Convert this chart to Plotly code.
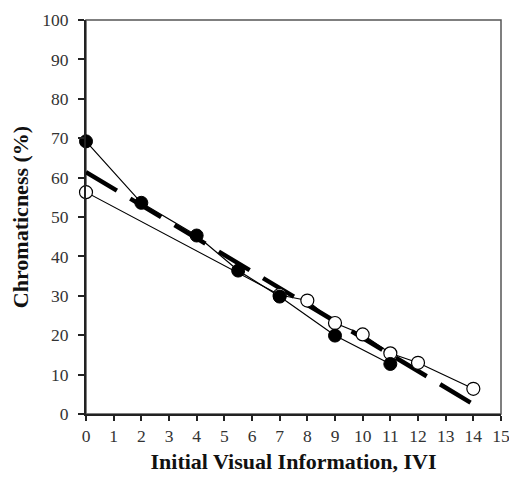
import plotly.graph_objects as go

# Data
filled_x = [0, 2, 4, 5.5, 7, 9, 11]
filled_y = [69.2, 53.6, 45.3, 36.4, 29.8, 19.9, 12.7]

open_x = [0, 7, 8, 9, 10, 11, 12, 14]
open_y = [56.3, 30.2, 28.8, 23.1, 20.2, 15.4, 13.0, 6.4]

fit_x = [0, 13.9]
fit_y = [61.4, 2.9]

x_ticks = list(range(0, 16))
y_ticks = list(range(0, 101, 10))

fig = go.Figure()

fig.add_trace(go.Scatter(
    x=fit_x, y=fit_y, mode="lines",
    line=dict(color="black", width=4.5, dash="36px,15.6px"),
    showlegend=False, cliponaxis=False))

fig.add_trace(go.Scatter(
    x=open_x, y=open_y, mode="lines",
    line=dict(color="black", width=1.2),
    showlegend=False, cliponaxis=False))

fig.add_trace(go.Scatter(
    x=filled_x, y=filled_y, mode="lines",
    line=dict(color="black", width=1.2),
    showlegend=False, cliponaxis=False))

fig.add_trace(go.Scatter(
    x=open_x, y=open_y, mode="markers",
    marker=dict(symbol="circle", size=13, color="white",
                line=dict(color="black", width=1.2)),
    showlegend=False, cliponaxis=False))

fig.add_trace(go.Scatter(
    x=filled_x, y=filled_y, mode="markers",
    marker=dict(symbol="circle", size=13, color="black",
                line=dict(color="black", width=1)),
    showlegend=False, cliponaxis=False))

tickfont = dict(family="Liberation Serif", size=17.5, color="#333")
titlefont = dict(family="Liberation Serif", size=22, color="#111")

fig.update_layout(
    width=509, height=478,
    margin=dict(l=86, r=8, t=20, b=64),
    paper_bgcolor="white", plot_bgcolor="white",
    xaxis=dict(
        range=[0, 15], tickmode="array", tickvals=x_ticks,
        ticktext=[str(v) for v in x_ticks],
        showgrid=False, zeroline=False, automargin=False,
        ticklabeloverflow="allow",
        showline=True, linecolor="#222", linewidth=2,
        ticks="outside", ticklen=5, tickwidth=1.5, tickcolor="#222",
        tickfont=tickfont,
        title=dict(text="<b>Initial Visual Information, IVI</b>", font=titlefont, standoff=9),
    ),
    yaxis=dict(
        range=[0, 100], tickmode="array", tickvals=y_ticks,
        ticktext=[str(v) for v in y_ticks],
        showgrid=False, zeroline=False, automargin=False,
        ticklabelstandoff=6,
        showline=True, linecolor="#222", linewidth=2,
        ticks="outside", ticklen=6, tickwidth=1.5, tickcolor="#222",
        tickfont=tickfont,
        title=dict(text="<b>Chromaticness (%)</b>", font=titlefont, standoff=8),
    ),
    shapes=[dict(type="rect", xref="paper", yref="paper", x0=0, y0=0, x1=1, y1=1,
                 line=dict(color="#555", width=1.5), layer="below")],
)

fig.write_html("out.html")
